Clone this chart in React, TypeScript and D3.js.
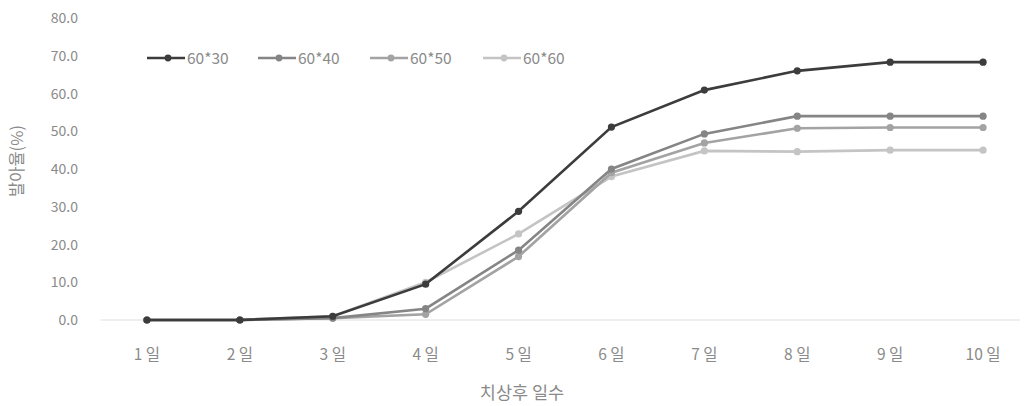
import React from "react";
import * as d3 from "d3";

const categories = ["1 일", "2 일", "3 일", "4 일", "5 일", "6 일", "7 일", "8 일", "9 일", "10 일"];
const seriesNames = ["60*30", "60*40", "60*50", "60*60"];
const s6030 = [0, 0, 1.0, 9.5, 28.8, 51.1, 60.9, 66.0, 68.3, 68.3];
const s6040 = [0, 0, 0.5, 3.0, 18.5, 40.0, 49.3, 54.0, 54.0, 54.0];
const s6050 = [0, 0, 0.5, 1.5, 16.8, 39.0, 46.9, 50.8, 51.0, 51.0];
const s6060 = [0, 0, 1.0, 10.0, 22.8, 38.0, 44.8, 44.6, 45.0, 45.0];
const yTicks = [0, 10, 20, 30, 40, 50, 60, 70, 80];
const colors = ["#3c3c3c", "#858585", "#a3a3a3", "#c4c4c4"];

export default function App() {
  const W = 1024, H = 406;
  const left = 100.5, right = 1029.5, top = 18, bottom = 320;
  const x = d3.scaleBand<string>().domain(categories).range([left, right]);
  const y = d3.scaleLinear().domain([0, 80]).range([bottom, top]);
  const cx = (c: string) => (x(c) as number) + x.bandwidth() / 2;
  const data = [s6030, s6040, s6050, s6060];
  const line = d3.line<number>().x((_, i) => cx(categories[i])).y((v) => y(v));
  const order = [3, 2, 1, 0];
  const legendX = [147, 258, 370, 483];
  const font = "'Noto Sans CJK KR', 'Noto Sans', sans-serif";
  return (
    <svg width={W} height={H} style={{ position: "absolute", left: 0, top: 0, background: "#fff" }}>
      <line x1={left} x2={1020} y1={y(0)} y2={y(0)} stroke="#e0e0e0" strokeWidth={1.2} />
      {yTicks.map((t) => (
        <text key={t} x={78} y={y(t) + 5} textAnchor="end" fontSize={14} fill="#8a8a8a" fontFamily={font}>
          {t.toFixed(1)}
        </text>
      ))}
      {categories.map((c) => (
        <text key={c} x={cx(c)} y={360} textAnchor="middle" fontSize={15.5} fill="#8a8a8a" fontFamily={font}>
          {c}
        </text>
      ))}
      {order.map((k) => (
        <g key={k}>
          <path d={line(data[k]) || ""} fill="none" stroke={colors[k]} strokeWidth={2.6} />
          {data[k].map((v, i) => (
            <circle key={i} cx={cx(categories[i])} cy={y(v)} r={3.6} fill={colors[k]} />
          ))}
        </g>
      ))}
      {seriesNames.map((n, k) => (
        <g key={n}>
          <line x1={legendX[k]} x2={legendX[k] + 38} y1={58} y2={58} stroke={colors[k]} strokeWidth={2.6} />
          <circle cx={legendX[k] + 21} cy={58} r={3.4} fill={colors[k]} />
          <text x={legendX[k] + 40} y={63.5} fontSize={15.5} fill="#8a8a8a" fontFamily={font}>
            {n}
          </text>
        </g>
      ))}
      <text x={522} y={399} textAnchor="middle" fontSize={17.5} fill="#8a8a8a" fontFamily={font}>
        치상후 일수
      </text>
      <text transform={`translate(23,161) rotate(-90)`} textAnchor="middle" fontSize={16.5} fill="#8a8a8a" fontFamily={font}>
        발아율(%)
      </text>
    </svg>
  );
}
